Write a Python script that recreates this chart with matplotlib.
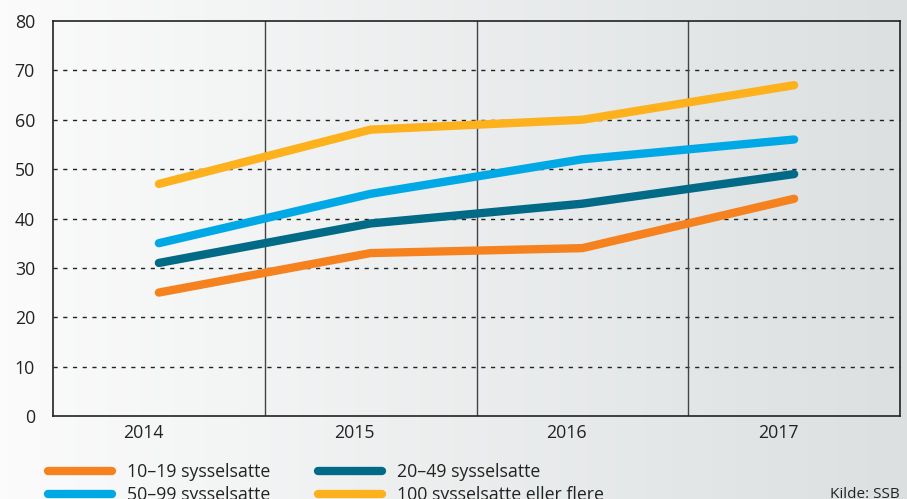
import numpy as np
import matplotlib
matplotlib.use('Agg')
import matplotlib.pyplot as plt
import matplotlib.transforms as mtransforms

plt.rcParams['font.family'] = ['Open Sans', 'DejaVu Sans']

years = ['2014', '2015', '2016', '2017']
s_10_19 = [25, 33, 34, 44]
s_20_49 = [31, 39, 43, 49]
s_50_99 = [35, 45, 52, 56]
s_100 = [47, 58, 60, 67]

labels = ['10–19 sysselsatte', '20–49 sysselsatte', '50–99 sysselsatte', '100 sysselsatte eller flere']
colors = ['#f5821f', '#006a87', '#00a9e6', '#fdb11c']

fig = plt.figure(figsize=(9.07, 4.99), dpi=100)

# background gradient
bg = fig.add_axes([0, 0, 1, 1], zorder=-10)
grad = np.linspace(0, 1, 256).reshape(1, -1)
c0 = np.array([0.985, 0.985, 0.985])
c1 = np.array([0.863, 0.878, 0.882])
img = c0[None, None, :] * (1 - grad[..., None]) + c1[None, None, :] * grad[..., None]
bg.imshow(img, aspect='auto', extent=[0, 1, 0, 1])
bg.axis('off')

ax = fig.add_axes([53/907, 1-416/499, (900-53)/907, (416-21)/499])
ax.patch.set_alpha(0)

x = np.arange(len(years))
for vals, lab, c in zip([s_10_19, s_20_49, s_50_99, s_100], labels, colors):
    ax.plot(x, vals, color=c, lw=6, solid_capstyle='round', label=lab, zorder=3)

ax.set_xlim(-0.5, 3.5)
ax.set_ylim(0, 80)
ax.set_yticks(range(0, 81, 10))
ax.set_xticks(x)
ax.set_xticklabels(years)
for yv in range(10, 80, 10):
    ax.axhline(yv, color='#222222', lw=1, ls=(0, (3, 4)), zorder=1)
for xv in [0.5, 1.5, 2.5]:
    ax.axvline(xv, color='#444444', lw=1, zorder=1)
for sp in ax.spines.values():
    sp.set_color('#222222')
    sp.set_linewidth(1.2)

ax.tick_params(axis='both', length=0, labelsize=12.8, colors='#222222')
ax.tick_params(axis='y', pad=13)
ax.tick_params(axis='x', pad=6)
off = mtransforms.ScaledTranslation(-16/100, 0, fig.dpi_scale_trans)
for t in ax.get_xticklabels():
    t.set_transform(t.get_transform() + off)

h, l = ax.get_legend_handles_labels()
order = [0, 2, 1, 3]
leg = fig.legend([h[i] for i in order], [l[i] for i in order], ncol=2,
                 loc='upper left', bbox_to_anchor=(48/907, 1-463/499),
                 frameon=False, fontsize=12.8, handlelength=3.6,
                 handletextpad=0.85, columnspacing=2.7, labelspacing=0.3,
                 borderpad=0, borderaxespad=0)
for t in leg.get_texts():
    t.set_color('#222222')

fig.text(900/907, 1-495/499, 'Kilde: SSB', ha='right', va='center',
         fontsize=11, color='#222222')

fig.savefig('out.png', dpi=100)
